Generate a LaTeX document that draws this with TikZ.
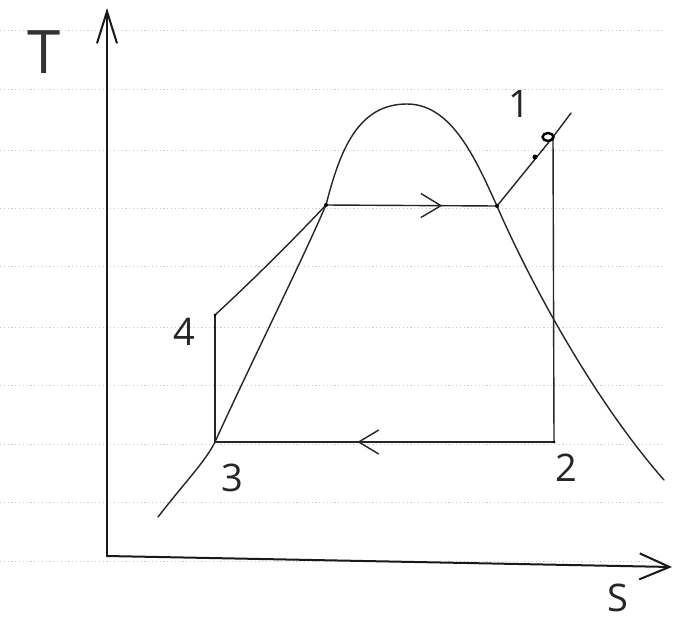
\documentclass[tikz,border=0pt]{standalone}
\usepackage{fontspec}
\setmainfont{Open Sans}
\usetikzlibrary{arrows.meta,decorations.markings,shapes.geometric}
\tikzset{
  pen/.style={line width=1.4pt, black!85, line cap=round, line join=round},
  axispen/.style={line width=2pt, black!90, line cap=round},
  ruled/.style={gray!40, line width=0.8pt, dash pattern=on 1.2pt off 2.6pt},
  lbl/.style={font=\fontsize{38}{38}\selectfont, inner sep=0pt, black!85},
  flowR/.style={postaction=decorate, decoration={markings,
      mark=at position #1 with {\arrow{Straight Barb[length=20pt,width=24pt,line width=1.4pt]}}}},
  dotpt/.style={circle, fill=black, inner sep=0pt, minimum size=4pt}
}
\begin{document}
\begin{tikzpicture}[x=1pt,y=-1pt]
\useasboundingbox (0,0) rectangle (676,624);
\fill[white] (0,0) rectangle (676,624);
% ruled notebook lines
\foreach \yy in {30,89,150,208,266,327,385,444,502,561}
  \draw[ruled] (0,\yy) -- (665,\yy);
% key points
\coordinate (p1) at (553,137);
\coordinate (p2) at (554,442);
\coordinate (p3) at (215,442);
\coordinate (p4) at (215,315);
\coordinate (pa) at (326,205);
\coordinate (pb) at (497,206);
\coordinate (pend) at (571,113);
\coordinate (orig) at (107,556);
\coordinate (ttip) at (107,8);
\coordinate (stip) at (672,567);
\coordinate (dstart) at (158,517);
\coordinate (dtop) at (407,104);
\coordinate (dend) at (664,480);
% axes
\draw[axispen, -{Straight Barb[length=32pt,width=20pt,line width=2pt]}] (orig) -- (ttip);
\draw[axispen, -{Straight Barb[length=30pt,width=26pt,line width=2pt]}] (orig) -- (stip);
% saturation dome
\draw[pen] (dstart) .. controls (185,482) and (205,462) .. (p3)
  .. controls (250,365) and (300,265) .. (pa)
  .. controls (340,150) and (358,104) .. (dtop)
  .. controls (452,104) and (476,160) .. (pb)
  .. controls (520,260) and (585,390) .. (dend);
% cycle
\draw[pen] (p4) .. controls (255,278) and (295,238) .. (pa);
\draw[pen, flowR=0.68] (pa) -- (pb);
\draw[pen] (pb) -- (p1) -- (pend);
\draw[pen] (p1) -- (p2);
\draw[pen, flowR=0.58] (p2) -- (p3);
\draw[pen] (p3) -- (p4);
% point marks
\node[dotpt] (da) at (pa) {};
\node[dotpt] (db) at (pb) {};
\node[dotpt, minimum size=3pt] (d4) at (p4) {};
\node[dotpt, minimum size=3pt] (d2) at (p2) {};
\node[draw=black, line width=2.4pt, ellipse, inner sep=0pt, minimum width=11pt, minimum height=8pt] (c1) at (548,137) {};
\node[dotpt, minimum size=5pt] (dm) at (535,157) {};
% labels
\node[font=\fontsize{60}{60}\selectfont, inner sep=0pt, black!80] (tl) at (44,52) {T};
\node[lbl] (l1) at (519,104) {1};
\node[lbl] (l2) at (566,468) {2};
\node[lbl] (l3) at (232,478) {3};
\node[lbl] (l4) at (184,332) {4};
\node[lbl] (ls) at (618,598) {S};
\end{tikzpicture}
\end{document}
